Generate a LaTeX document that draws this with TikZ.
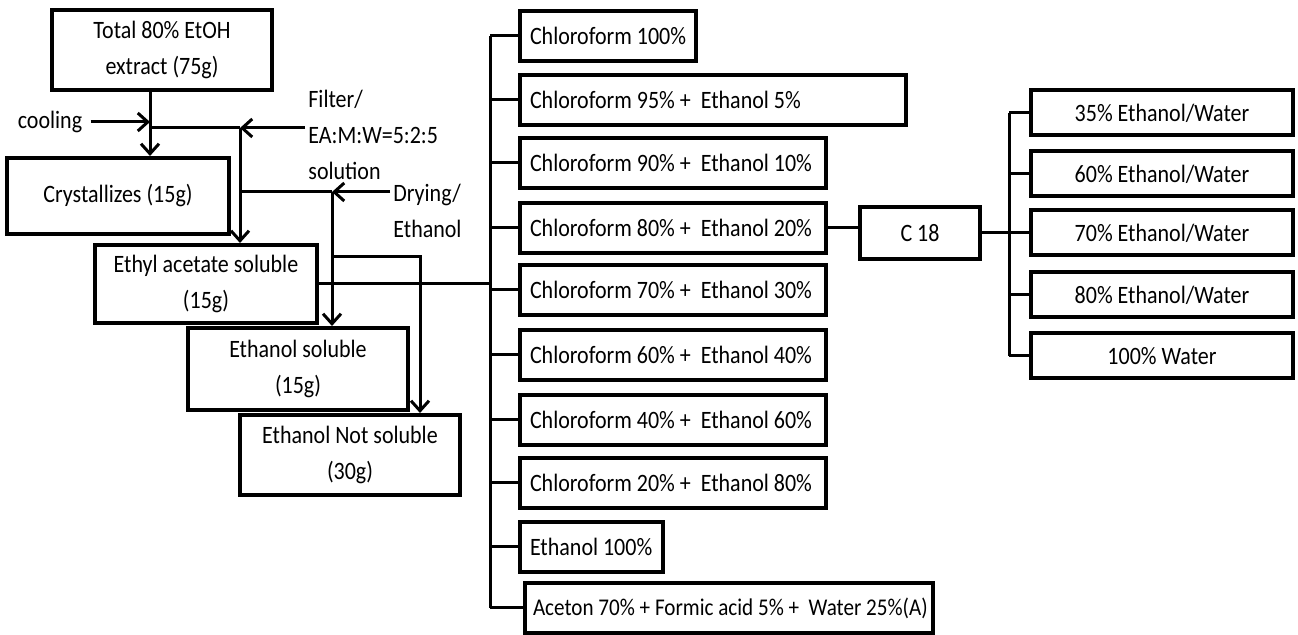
\documentclass[tikz,border=0pt]{standalone}
\usepackage{fontspec}
\setmainfont{Carlito}[FakeStretch=0.88]
\usepackage{tikz}
\usetikzlibrary{
  positioning, arrows.meta, calc,
}

\begin{document}
\begin{tikzpicture}[x=0.5pt, y=-0.5pt,
    font=\fontsize{12.5}{18}\selectfont,
    box/.style={draw, line width=2pt, inner sep=0pt},
    stepbox/.style={box, minimum width=110pt, minimum height=40pt, align=center},
    fracbox/.style={box, anchor=west, minimum height=25pt, inner xsep=5pt, text width=#1, align=flush left,
      execute at begin node=\hbox\bgroup, execute at end node=\egroup},
    waterbox/.style={box, minimum width=131pt, minimum height=22.5pt},
    link/.style={line width=1.5pt},
    arr/.style={link, -{Straight Barb[length=5pt, width=9pt]}},
    lbl/.style={align=flush left, inner sep=0pt},
  ]
  \useasboundingbox (0,0) rectangle (1298,635);

  % extraction steps
  \node[stepbox] (total) at (162,50) {Total 80\% EtOH\\extract (75g)};
  \node[stepbox, minimum height=38pt, minimum width=111pt] (cryst) at (118,196) {Crystallizes (15g)};
  \node[stepbox, minimum width=111pt, minimum height=39pt] (ethyl) at (206,284) {Ethyl acetate soluble\\(15g)};
  \node[stepbox, minimum height=41pt] (etsol) at (298,369) {Ethanol soluble\\(15g)};
  \node[stepbox] (etnot) at (350,455) {Ethanol Not soluble\\(30g)};

  \node[lbl] (cool) at (50,122) {cooling};
  \node[lbl, anchor=north west] (filter) at (308,90) {Filter/\\EA:M:W=5:2:5\\solution};
  \node[lbl, anchor=north west] (dry) at (393,184) {Drying/\\Ethanol};

  \coordinate (fin) at (305,128);
  \coordinate (fdn) at (240,128);
  \coordinate (din) at (390,192);
  \coordinate (ddn) at (332,192);
  \coordinate (nbr) at (420,257);

  \draw[arr] ([xshift=-6pt]total.south) -- ([xshift=-6pt]total.south |- cryst.north);
  \draw[arr] ([xshift=4pt]cool.east) -- ([xshift=-6pt]total.south |- cool.east);
  \draw[arr] (fin) -- (fdn);
  \draw[link] (fdn) -- ([xshift=-6pt]total.south |- fdn);
  \draw[arr] (fdn) -- (fdn |- ethyl.north);
  \draw[arr] (din) -- (ddn);
  \draw[link] (ddn) -- (ddn -| fdn);
  \draw[arr] (ddn) -- (ddn |- etsol.north);
  \draw[arr] (ddn |- nbr) -- (nbr) -- (nbr |- etnot.north);

  % silica column fractions
  \node[fracbox=78pt] (cf100) at (518,36) {Chloroform 100\%};
  \node[fracbox=183pt] (cf95) at (518,100) {Chloroform 95\% +~ Ethanol 5\%};
  \node[fracbox=143pt] (cf90) at (518,163) {Chloroform 90\% +~ Ethanol 10\%};
  \node[fracbox=143pt] (cf80) at (518,228) {Chloroform 80\% +~ Ethanol 20\%};
  \node[fracbox=143pt] (cf70) at (518,290) {Chloroform 70\% +~ Ethanol 30\%};
  \node[fracbox=143pt] (cf60) at (518,355) {Chloroform 60\% +~ Ethanol 40\%};
  \node[fracbox=143pt] (cf40) at (518,420) {Chloroform 40\% +~ Ethanol 60\%};
  \node[fracbox=143pt] (cf20) at (518,483) {Chloroform 20\% +~ Ethanol 80\%};
  \node[fracbox=61.5pt] (et100) at (518,547) {Ethanol 100\%};
  \node[fracbox=196pt, inner xsep=4pt, font=\fontsize{12}{18}\selectfont] (aceton) at (523,608) {Aceton 70\% + Formic acid 5\% +~ Water 25\%(A)};

  \coordinate (spine) at (490,0);
  \draw[link] (ethyl.east) -- (ethyl.east -| spine);
  \draw[link] (cf100.west -| spine) -- (aceton.west -| spine);
  \draw[link] (cf100.west) -- (cf100.west -| spine);
  \draw[link] (cf95.west) -- (cf95.west -| spine);
  \draw[link] (cf90.west) -- (cf90.west -| spine);
  \draw[link] (cf80.west) -- (cf80.west -| spine);
  \draw[link] (cf70.west) -- (cf70.west -| spine);
  \draw[link] (cf60.west) -- (cf60.west -| spine);
  \draw[link] (cf40.west) -- (cf40.west -| spine);
  \draw[link] (cf20.west) -- (cf20.west -| spine);
  \draw[link] (et100.west) -- (et100.west -| spine);
  \draw[link] (aceton.west) -- (aceton.west -| spine);

  % C18 column
  \node[box, minimum width=60pt, minimum height=26pt] (c18) at (920,233) {C 18};
  \draw[link] (cf80.east) -- (cf80.east -| c18.west);

  \node[waterbox] (w35) at (1162,113) {35\% Ethanol/Water};
  \node[waterbox] (w60) at (1162,174) {60\% Ethanol/Water};
  \node[waterbox] (w70) at (1162,233) {70\% Ethanol/Water};
  \node[waterbox] (w80) at (1162,295) {80\% Ethanol/Water};
  \node[waterbox] (w100) at (1162,356) {100\% Water};

  \coordinate (rspine) at (1009,0);
  \draw[link] (c18.east) -- (c18.east -| rspine);
  \draw[link] (w35.west -| rspine) -- (w100.west -| rspine);
  \draw[link] (w35.west) -- (w35.west -| rspine);
  \draw[link] (w60.west) -- (w60.west -| rspine);
  \draw[link] (w70.west) -- (w70.west -| rspine);
  \draw[link] (w80.west) -- (w80.west -| rspine);
  \draw[link] (w100.west) -- (w100.west -| rspine);
\end{tikzpicture}
\end{document}
